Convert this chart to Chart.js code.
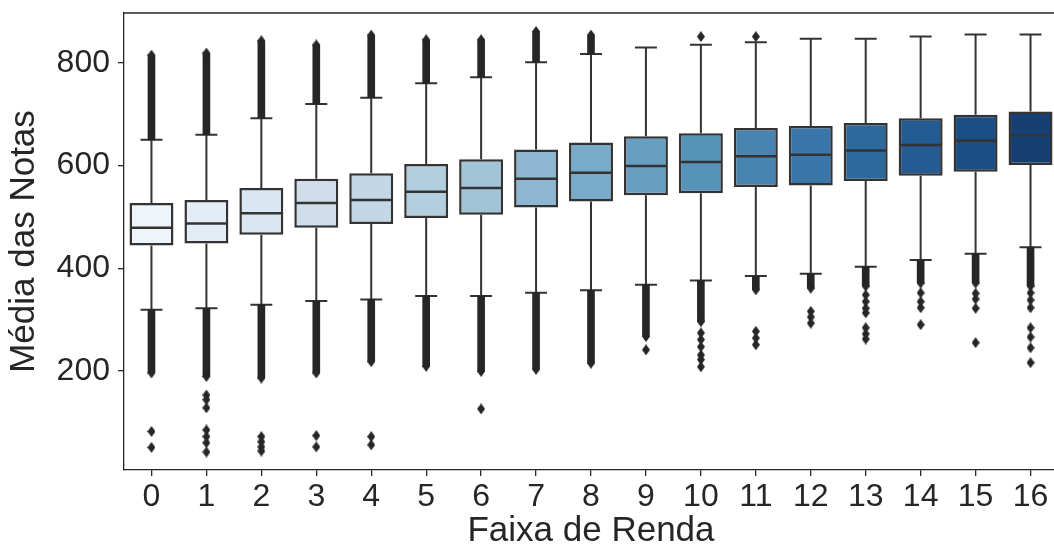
<!DOCTYPE html>
<html>
<head>
<meta charset="utf-8">
<script src="https://cdn.jsdelivr.net/npm/chart.js@4.4.0/dist/chart.umd.min.js"></script>
<style>
    html, body { margin: 0; padding: 0; background: #fff; overflow: hidden; }
    #wrap { width: 1063px; height: 549px; }
</style>
</head>
<body>
<div id="wrap"><canvas id="chart"></canvas></div>
<script>
// faixas de renda 0..16
const labels = ['0', '1', '2', '3', '4', '5', '6', '7', '8', '9', '10', '11', '12', '13', '14', '15', '16'];

// quartis e mediana
const q1 = [444, 448, 465, 479, 486, 498, 504, 518, 530, 542, 546, 558, 561, 570, 580, 588, 601];
const median = [479, 487, 507, 527, 533, 549, 556, 574, 586, 599, 607, 618, 621, 629, 640, 648, 659];
const q3 = [527, 533, 556, 574, 585, 603, 612, 631, 645, 657, 663, 673, 677, 683, 692, 699, 705];

// bigodes
const whiskerLow = [319, 322, 329, 336, 339, 346, 346, 352, 357, 368, 376, 385, 389, 403, 416, 428, 441];
const whiskerHigh = [650, 660, 692, 720, 732, 760, 772, 801, 817, 830, 835, 840, 847, 847, 851, 855, 855];

// faixas densas de outliers (extremos)
const upperOutlierMax = [815, 819, 843, 835, 854, 845, 845, 861, 854, null, null, null, null, null, null, null, null];
const lowerOutlierMin = [196, 189, 186, 196, 218, 209, 199, 203, 215, 267, 296, 358, 361, 365, 371, 371, 365];

// outliers isolados
const extraOutliers = [
    [82, 51],
    [153, 144, 128, 85, 72, 60, 42],
    [72, 62, 52, 44],
    [74, 52],
    [72, 56],
    [],
    [126],
    [],
    [],
    [241],
    [851, 274, 261, 247, 231, 222, 208],
    [851, 277, 264, 251],
    [316, 305, 293],
    [348, 335, 322, 313, 284, 272, 262],
    [352, 335, 323, 290],
    [351, 340, 322, 255],
    [352, 338, 323, 284, 266, 245, 216]
];

const yTicks = [200, 400, 600, 800];

const FONT = "'Liberation Sans', Arial, sans-serif";
const INK = '#262626';
const LINE = '#333333';

// paleta Blues do matplotlib, dessaturada como no seaborn
const bluesStops = [
    [247, 251, 255], [222, 235, 247], [198, 219, 239], [158, 202, 225], [107, 174, 214],
    [66, 146, 198], [33, 113, 181], [8, 81, 156], [8, 48, 107]
];

function blues(t) {
    const p = t * 8;
    const i = Math.min(7, Math.floor(p));
    const f = p - i;
    return bluesStops[i].map((c, k) => (c + (bluesStops[i + 1][k] - c) * f) / 255);
}

function desaturate([r, g, b], prop) {
    const max = Math.max(r, g, b), min = Math.min(r, g, b);
    const l = (max + min) / 2;
    let h = 0, s = 0;
    if (max !== min) {
        const d = max - min;
        s = l > 0.5 ? d / (2 - max - min) : d / (max + min);
        if (max === r) h = ((g - b) / d + (g < b ? 6 : 0)) / 6;
        else if (max === g) h = ((b - r) / d + 2) / 6;
        else h = ((r - g) / d + 4) / 6;
    }
    s *= prop;
    const hue2rgb = (p, q, t) => {
        if (t < 0) t += 1;
        if (t > 1) t -= 1;
        if (t < 1 / 6) return p + (q - p) * 6 * t;
        if (t < 1 / 2) return q;
        if (t < 2 / 3) return p + (q - p) * (2 / 3 - t) * 6;
        return p;
    };
    let rr, gg, bb;
    if (s === 0) {
        rr = gg = bb = l;
    } else {
        const q = l < 0.5 ? l * (1 + s) : l + s - l * s;
        const p = 2 * l - q;
        rr = hue2rgb(p, q, h + 1 / 3);
        gg = hue2rgb(p, q, h);
        bb = hue2rgb(p, q, h - 1 / 3);
    }
    return `rgb(${Math.round(rr * 255)}, ${Math.round(gg * 255)}, ${Math.round(bb * 255)})`;
}

const boxColors = labels.map((_, i) => desaturate(blues((i + 1) / (labels.length + 1)), 0.75));

// marcador losango fino (como 'd' do matplotlib)
function thinDiamond(w, h, color) {
    const c = document.createElement('canvas');
    c.width = w;
    c.height = h;
    const g = c.getContext('2d');
    g.fillStyle = color;
    g.beginPath();
    g.moveTo(w / 2, 0);
    g.lineTo(w, h / 2);
    g.lineTo(w / 2, h);
    g.lineTo(0, h / 2);
    g.closePath();
    g.fill();
    return c;
}
const diamond = thinDiamond(8, 11, INK);

// x como rotulo (string) para a escala de categorias
const outlierPoints = [];
labels.forEach((lab, i) => {
    if (upperOutlierMax[i] !== null) outlierPoints.push({ x: lab, y: upperOutlierMax[i] });
    outlierPoints.push({ x: lab, y: lowerOutlierMin[i] });
    extraOutliers[i].forEach(v => outlierPoints.push({ x: lab, y: v }));
});

const BOX_DS = 3;

const boxPlugin = {
    id: 'boxParts',
    beforeDatasetsDraw(chart) {
        const { ctx, scales: { y } } = chart;
        const meta = chart.getDatasetMeta(BOX_DS);
        ctx.save();
        ctx.strokeStyle = LINE;
        ctx.lineWidth = 2;
        meta.data.forEach((bar, i) => {
            const x = bar.x;
            const cap = bar.width / 4;
            const yh = y.getPixelForValue(whiskerHigh[i]);
            const yl = y.getPixelForValue(whiskerLow[i]);
            ctx.beginPath();
            ctx.moveTo(x, y.getPixelForValue(q3[i]));
            ctx.lineTo(x, yh);
            ctx.moveTo(x, y.getPixelForValue(q1[i]));
            ctx.lineTo(x, yl);
            ctx.moveTo(x - cap, yh);
            ctx.lineTo(x + cap, yh);
            ctx.moveTo(x - cap, yl);
            ctx.lineTo(x + cap, yl);
            ctx.stroke();
        });
        ctx.restore();
    },
    afterDatasetsDraw(chart) {
        const { ctx, chartArea, scales: { y } } = chart;
        const meta = chart.getDatasetMeta(BOX_DS);
        ctx.save();
        ctx.strokeStyle = LINE;
        ctx.lineWidth = 2.5;
        meta.data.forEach((bar, i) => {
            const ym = y.getPixelForValue(median[i]);
            ctx.beginPath();
            ctx.moveTo(bar.x - bar.width / 2 + 1, ym);
            ctx.lineTo(bar.x + bar.width / 2 - 1, ym);
            ctx.stroke();
        });
        // moldura superior e direita
        ctx.strokeStyle = INK;
        ctx.lineWidth = 1.3;
        ctx.beginPath();
        ctx.moveTo(chartArea.left, chartArea.top);
        ctx.lineTo(chartArea.right, chartArea.top);
        ctx.lineTo(chartArea.right, chartArea.bottom);
        ctx.stroke();
        ctx.restore();
    }
};

new Chart(document.getElementById('chart'), {
    type: 'bar',
    data: {
        labels: labels,
        datasets: [
            {
                type: 'line',
                data: outlierPoints,
                showLine: false,
                pointStyle: diamond,
                pointRadius: 4,
                pointHoverRadius: 4
            },
            {
                data: labels.map((_, i) => upperOutlierMax[i] === null ? null : [whiskerHigh[i], upperOutlierMax[i]]),
                backgroundColor: INK,
                borderWidth: 0,
                barThickness: 7,
                grouped: false
            },
            {
                data: labels.map((_, i) => [lowerOutlierMin[i], whiskerLow[i]]),
                backgroundColor: INK,
                borderWidth: 0,
                barThickness: 7,
                grouped: false
            },
            {
                data: labels.map((_, i) => [q1[i], q3[i]]),
                backgroundColor: boxColors,
                borderColor: LINE,
                borderWidth: 2.5,
                borderSkipped: false,
                barPercentage: 0.8,
                categoryPercentage: 1.0,
                grouped: false
            }
        ]
    },
    options: {
        responsive: true,
        maintainAspectRatio: false,
        animation: false,
        events: [],
        layout: { padding: { top: 13, left: 0, right: 0, bottom: 0 } },
        plugins: {
            legend: { display: false },
            tooltip: { enabled: false }
        },
        scales: {
            x: {
                type: 'category',
                offset: true,
                grid: { offset: false, drawOnChartArea: false, drawTicks: true, tickLength: 6, color: INK, lineWidth: 1.3 },
                border: { display: true, color: INK, width: 1.3 },
                ticks: { color: INK, font: { family: FONT, size: 32 }, padding: 2, maxRotation: 0, autoSkip: false },
                title: {
                    display: true,
                    text: 'Faixa de Renda',
                    color: INK,
                    font: { family: FONT, size: 35, lineHeight: 1 },
                    padding: { top: 0, bottom: 0 }
                },
                afterFit(s) {
                    s.height = 79;
                    s.paddingLeft = 0;
                    s.paddingRight = 0;
                }
            },
            y: {
                min: 7,
                max: 897,
                afterBuildTicks(s) {
                    s.ticks = yTicks.map(v => ({ value: v }));
                },
                grid: { drawOnChartArea: false, drawTicks: true, tickLength: 6, color: INK, lineWidth: 1.3 },
                border: { display: true, color: INK, width: 1.3 },
                ticks: { color: INK, font: { family: FONT, size: 32 }, padding: 8 },
                title: {
                    display: true,
                    text: 'Média das Notas',
                    color: INK,
                    font: { family: FONT, size: 35, lineHeight: 1 },
                    padding: { top: 7, bottom: 0 }
                },
                afterFit(s) {
                    s.width = 124;
                    s.paddingTop = 0;
                    s.paddingBottom = 0;
                }
            }
        }
    },
    plugins: [boxPlugin]
});
</script>
</body>
</html>
